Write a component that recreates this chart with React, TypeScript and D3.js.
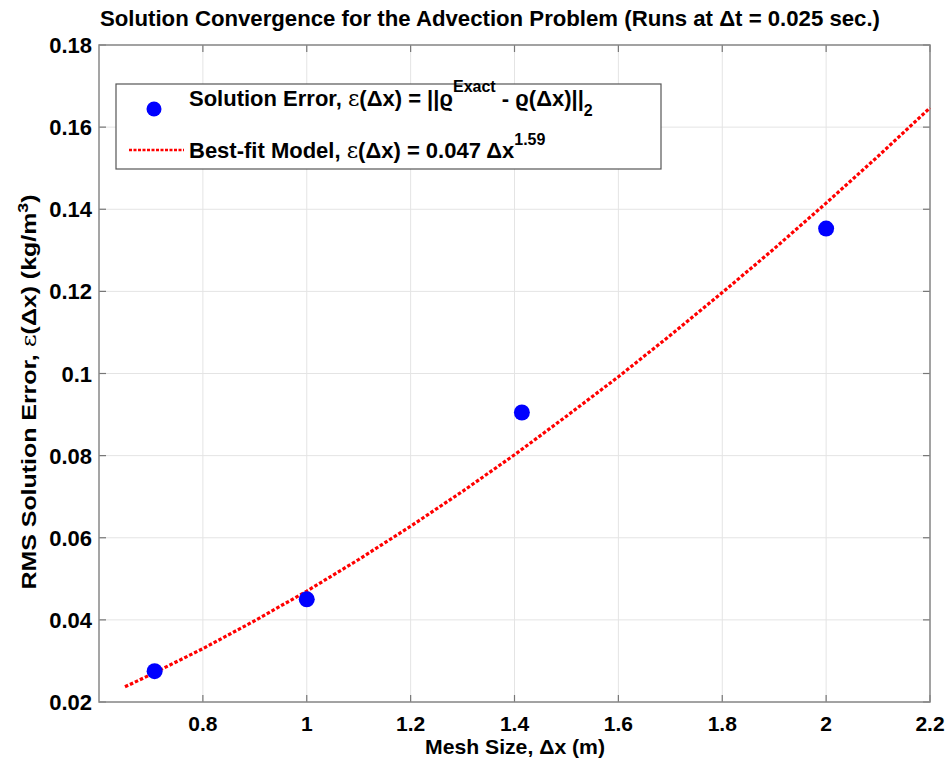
import React from "react";
import * as d3 from "d3";

const meshSizes = [0.7071, 1.0, 1.4142, 2.0];
const rmsErrors = [0.0275, 0.045, 0.0905, 0.1353];
const fitX = [0.65, 0.7, 0.8, 0.9, 1.0, 1.1, 1.2, 1.3, 1.4, 1.5, 1.6, 1.7, 1.8, 1.9, 2.0, 2.1, 2.2];
const fitY = [0.0237, 0.0267, 0.033, 0.0398, 0.047, 0.0547, 0.0628, 0.0713, 0.0802, 0.0896, 0.0992, 0.1093, 0.1197, 0.1304, 0.1415, 0.1529, 0.1647];
const xTicks = [0.8, 1, 1.2, 1.4, 1.6, 1.8, 2, 2.2];
const yTicks = [0.02, 0.04, 0.06, 0.08, 0.1, 0.12, 0.14, 0.16, 0.18];

const W = 948, H = 765;
const L = 99, R = 930, T = 45, B = 702;

export default function App() {
  const x = d3.scaleLinear().domain([0.6, 2.2]).range([L, R]);
  const y = d3.scaleLinear().domain([0.02, 0.18]).range([B, T]);
  const line = d3.line<number>().x((_, i) => x(fitX[i])).y((d) => y(d));
  const font = "'Liberation Sans', Arial, Helvetica, sans-serif";
  const serif = "'DejaVu Serif', serif";
  return (
    <svg width={W} height={H} style={{ position: "absolute", left: 0, top: 0, background: "#fff" }} fontFamily={font}>
      <rect x={0} y={0} width={W} height={H} fill="#fff" />
      <text x={100} y={26} fontSize={22} fontWeight="bold" textLength={780} lengthAdjust="spacingAndGlyphs">
        Solution Convergence for the Advection Problem (Runs at Δt = 0.025 sec.)
      </text>
      {/* grid */}
      {xTicks.map((t) => (
        <line key={"gx" + t} x1={x(t)} x2={x(t)} y1={T} y2={B} stroke="#e4e4e4" strokeWidth={1} />
      ))}
      {yTicks.map((t) => (
        <line key={"gy" + t} x1={L} x2={R} y1={y(t)} y2={y(t)} stroke="#e4e4e4" strokeWidth={1} />
      ))}
      {/* ticks */}
      {xTicks.map((t) => (
        <g key={"tx" + t}>
          <line x1={x(t)} x2={x(t)} y1={B} y2={B - 7} stroke="#777" strokeWidth={1.2} />
          <line x1={x(t)} x2={x(t)} y1={T} y2={T + 7} stroke="#777" strokeWidth={1.2} />
          <text x={x(t)} y={B + 29} fontSize={21} fontWeight="bold" textAnchor="middle">
            {String(t)}
          </text>
        </g>
      ))}
      {yTicks.map((t) => (
        <g key={"ty" + t}>
          <line x1={L} x2={L + 7} y1={y(t)} y2={y(t)} stroke="#777" strokeWidth={1.2} />
          <line x1={R} x2={R - 7} y1={y(t)} y2={y(t)} stroke="#777" strokeWidth={1.2} />
          <text x={92} y={y(t) + 8} fontSize={22} fontWeight="bold" textAnchor="end">
            {String(t)}
          </text>
        </g>
      ))}
      <rect x={L} y={T} width={R - L} height={B - T} fill="none" stroke="#888" strokeWidth={1.5} />
      {/* fit */}
      <path d={line(fitY) || ""} fill="none" stroke="#ff0000" strokeWidth={3.2} strokeDasharray="3.5,2" />
      {meshSizes.map((m, i) => (
        <circle key={"p" + i} cx={x(m)} cy={y(rmsErrors[i])} r={8} fill="#0000ff" />
      ))}
      {/* legend */}
      <rect x={116} y={84} width={545} height={85} fill="#fff" stroke="#555" strokeWidth={1.2} />
      <circle cx={154} cy={109} r={7.5} fill="#0000ff" />
      <text x={189} y={106} fontSize={22} fontWeight="bold">
        Solution Error, <tspan fontWeight="normal" fontFamily={serif}>ε</tspan>(Δx) = ||ϱ
        <tspan dy={-14} fontSize={16}>Exact</tspan>
        <tspan dy={14}> - ϱ(Δx)||</tspan>
        <tspan dy={10} fontSize={16}>2</tspan>
      </text>
      <line x1={129} x2={184} y1={150} y2={150} stroke="#ff0000" strokeWidth={2.5} strokeDasharray="3,1.5" />
      <text x={189} y={158} fontSize={22} fontWeight="bold">
        Best-fit Model, <tspan fontWeight="normal" fontFamily={serif}>ε</tspan>(Δx) = 0.047 Δx
        <tspan dy={-13} fontSize={16}>1.59</tspan>
      </text>
      {/* axis labels */}
      <text x={515} y={754} fontSize={21} fontWeight="bold" textAnchor="middle" textLength={180} lengthAdjust="spacingAndGlyphs">
        Mesh Size, Δx (m)
      </text>
      <text transform="translate(36,392) rotate(-90)" fontSize={21} fontWeight="bold" textAnchor="middle" textLength={395} lengthAdjust="spacingAndGlyphs">
        RMS Solution Error, <tspan fontWeight="normal" fontFamily={serif}>ε</tspan>(Δx) (kg/m
        <tspan dy={-8} fontSize={15}>3</tspan>
        <tspan dy={8}>)</tspan>
      </text>
    </svg>
  );
}
